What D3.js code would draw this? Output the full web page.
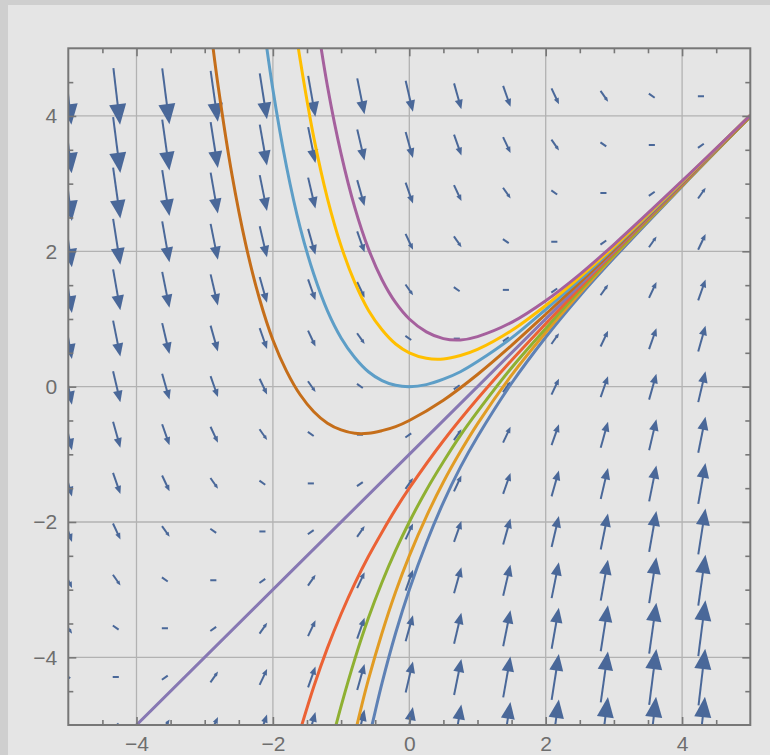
<!DOCTYPE html>
<html>
<head>
<meta charset="utf-8">
<script src="https://cdn.jsdelivr.net/npm/d3@7"></script>
<style>
html, body { margin: 0; padding: 0; overflow: hidden; background: #cfcfcf; }
</style>
</head>
<body>
<div id="chart"></div>
<script>
// sample points of the direction field
var gridX = [-5, -4.29, -3.57, -2.86, -2.14, -1.43, -0.71, 0, 0.71, 1.43, 2.14, 2.86, 3.57, 4.29];
var gridY = [-5, -4.29, -3.57, -2.86, -2.14, -1.43, -0.71, 0, 0.71, 1.43, 2.14, 2.86, 3.57, 4.29];

// slope dy/dx at each grid point, one row per gridY value (bottom to top)
var slopeRows = [
    [0, 0.71, 1.43, 2.14, 2.86, 3.57, 4.29, 5, 5.71, 6.43, 7.14, 7.86, 8.57, 9.29],
    [-0.71, 0, 0.71, 1.43, 2.14, 2.86, 3.57, 4.29, 5, 5.71, 6.43, 7.14, 7.86, 8.57],
    [-1.43, -0.71, 0, 0.71, 1.43, 2.14, 2.86, 3.57, 4.29, 5, 5.71, 6.43, 7.14, 7.86],
    [-2.14, -1.43, -0.71, 0, 0.71, 1.43, 2.14, 2.86, 3.57, 4.29, 5, 5.71, 6.43, 7.14],
    [-2.86, -2.14, -1.43, -0.71, 0, 0.71, 1.43, 2.14, 2.86, 3.57, 4.29, 5, 5.71, 6.43],
    [-3.57, -2.86, -2.14, -1.43, -0.71, 0, 0.71, 1.43, 2.14, 2.86, 3.57, 4.29, 5, 5.71],
    [-4.29, -3.57, -2.86, -2.14, -1.43, -0.71, 0, 0.71, 1.43, 2.14, 2.86, 3.57, 4.29, 5],
    [-5, -4.29, -3.57, -2.86, -2.14, -1.43, -0.71, 0, 0.71, 1.43, 2.14, 2.86, 3.57, 4.29],
    [-5.71, -5, -4.29, -3.57, -2.86, -2.14, -1.43, -0.71, 0, 0.71, 1.43, 2.14, 2.86, 3.57],
    [-6.43, -5.71, -5, -4.29, -3.57, -2.86, -2.14, -1.43, -0.71, 0, 0.71, 1.43, 2.14, 2.86],
    [-7.14, -6.43, -5.71, -5, -4.29, -3.57, -2.86, -2.14, -1.43, -0.71, 0, 0.71, 1.43, 2.14],
    [-7.86, -7.14, -6.43, -5.71, -5, -4.29, -3.57, -2.86, -2.14, -1.43, -0.71, 0, 0.71, 1.43],
    [-8.57, -7.86, -7.14, -6.43, -5.71, -5, -4.29, -3.57, -2.86, -2.14, -1.43, -0.71, 0, 0.71],
    [-9.29, -8.57, -7.86, -7.14, -6.43, -5.71, -5, -4.29, -3.57, -2.86, -2.14, -1.43, -0.71, 0]
];

// solution curves ([x, y] points)
var solBlue = [[-0.6, -5.24], [-0.5, -4.8], [-0.4, -4.38], [-0.2, -3.64], [0, -3], [0.25, -2.31], [0.5, -1.71], [0.75, -1.19], [1, -0.74], [1.5, 0.05], [2, 0.73], [2.5, 1.34], [3, 1.9], [4, 2.96], [5, 3.99]];
var solOrange = [[-0.8, -5.14], [-0.7, -4.72], [-0.6, -4.33], [-0.4, -3.64], [-0.2, -3.03], [0, -2.5], [0.25, -1.92], [0.5, -1.41], [0.75, -0.96], [1, -0.55], [1.5, 0.17], [2, 0.8], [2.5, 1.38], [3, 1.93], [4, 2.97], [5, 3.99]];
var solGreen = [[-1.1, -5.1], [-1, -4.72], [-0.8, -4.03], [-0.6, -3.42], [-0.4, -2.89], [-0.2, -2.42], [0, -2], [0.25, -1.53], [0.5, -1.11], [0.75, -0.72], [1, -0.37], [1.5, 0.28], [2, 0.86], [2.5, 1.42], [3, 1.95], [4, 2.98], [5, 3.99]];
var solRed = [[-1.6, -5.08], [-1.4, -4.43], [-1.2, -3.86], [-1, -3.36], [-0.8, -2.91], [-0.6, -2.51], [-0.4, -2.15], [-0.2, -1.81], [0, -1.5], [0.5, -0.8], [1, -0.18], [1.5, 0.39], [2, 0.93], [2.5, 1.46], [3, 1.98], [4, 2.99], [5, 4]];
var solLine = [[-4.5, -5.5], [0, -1], [5, 4]];
var solBrown = [[-2.9, 5.19], [-2.8, 4.42], [-2.6, 3.13], [-2.4, 2.11], [-2.2, 1.31], [-2, 0.69], [-1.8, 0.23], [-1.6, -0.12], [-1.4, -0.37], [-1.2, -0.54], [-1, -0.64], [-0.8, -0.69], [-0.6, -0.69], [-0.4, -0.65], [-0.2, -0.59], [0, -0.5], [0.5, -0.2], [1, 0.18], [1.5, 0.61], [2, 1.07], [2.5, 1.54], [3, 2.02], [4, 3.01], [5, 4]];
var solSky = [[-2.2, 5.83], [-2, 4.39], [-1.8, 3.25], [-1.6, 2.35], [-1.4, 1.66], [-1.2, 1.12], [-1, 0.72], [-0.8, 0.43], [-0.6, 0.22], [-0.4, 0.09], [-0.2, 0.02], [0, 0], [0.25, 0.03], [0.5, 0.11], [0.75, 0.22], [1, 0.37], [1.5, 0.72], [2, 1.14], [2.5, 1.58], [3, 2.05], [4, 3.02], [5, 4.01]];
var solYellow = [[-1.7, 5.51], [-1.6, 4.83], [-1.4, 3.68], [-1.2, 2.78], [-1, 2.08], [-0.8, 1.54], [-0.6, 1.13], [-0.4, 0.84], [-0.2, 0.63], [0, 0.5], [0.25, 0.42], [0.5, 0.41], [0.75, 0.46], [1, 0.55], [1.5, 0.83], [2, 1.2], [2.5, 1.62], [3, 2.07], [4, 3.03], [5, 4.01]];
var solMagenta = [[-1.4, 5.71], [-1.2, 4.44], [-1, 3.44], [-0.8, 2.65], [-0.6, 2.04], [-0.4, 1.58], [-0.2, 1.24], [0, 1], [0.25, 0.81], [0.5, 0.71], [0.75, 0.69], [1, 0.74], [1.5, 0.95], [2, 1.27], [2.5, 1.66], [3, 2.1], [4, 3.04], [5, 4.01]];

var solutions = [solBlue, solOrange, solGreen, solRed, solLine, solBrown, solSky, solYellow, solMagenta];
var solColors = ["#5e81b5", "#e19c24", "#8fb032", "#eb6235", "#8778b3", "#c56e1a", "#5d9ec7", "#ffbf00", "#a5609d"];

var majorTicks = [-4, -2, 0, 2, 4];
var minorTicks = [-4.5, -3.5, -3, -2.5, -1.5, -1, -0.5, 0.5, 1, 1.5, 2.5, 3, 3.5, 4.5];

function draw() {
    var w = 770, h = 755;
    var svg = d3.select("#chart").append("svg")
	.attr("width", w)
	.attr("height", h)
	.style("display", "block");

    svg.append("rect").attr("width", w).attr("height", h).attr("fill", "#cfcfcf");
    svg.append("rect").attr("x", 8).attr("y", 5)
	.attr("width", w - 8).attr("height", h - 5)
	.attr("fill", "#e5e5e5");

    var x = d3.scaleLinear().domain([-5, 5]).range([68.3, 750.3]);
    var y = d3.scaleLinear().domain([-5, 5]).range([725, 48.3]);
    var len = d3.scaleLinear().domain([1, 8]).range([8, 57]).clamp(true);

    svg.append("clipPath").attr("id", "plotclip")
	.append("rect")
	.attr("x", x(-5)).attr("y", y(5))
	.attr("width", x(5) - x(-5)).attr("height", y(-5) - y(5));

    // grid lines
    var grid = svg.append("g");
    grid.selectAll(".gx").data(majorTicks).enter().append("line")
	.attr("x1", function(d) { return x(d); })
	.attr("x2", function(d) { return x(d); })
	.attr("y1", y(5)).attr("y2", y(-5))
	.attr("stroke", "#b2b2b2").attr("stroke-width", 1.3);
    grid.selectAll(".gy").data(majorTicks).enter().append("line")
	.attr("y1", function(d) { return y(d); })
	.attr("y2", function(d) { return y(d); })
	.attr("x1", x(-5)).attr("x2", x(5))
	.attr("stroke", "#b2b2b2").attr("stroke-width", 1.3);

    // direction field
    var field = svg.append("g").attr("clip-path", "url(#plotclip)");
    var pxX = x(1) - x(0), pxY = y(0) - y(1);
    for (var j = 0; j < gridY.length; j++) {
	for (var i = 0; i < gridX.length; i++) {
	    var s = slopeRows[j][i];
	    var vx = pxX, vy = -s * pxY;
	    var n = Math.sqrt(vx * vx + vy * vy);
	    var ux = vx / n, uy = vy / n;
	    var L = len(Math.sqrt(1 + s * s));
	    var cx = x(gridX[i]), cy = y(gridY[j]);
	    var tx = cx - ux * L / 2, ty = cy - uy * L / 2;
	    var hx = cx + ux * L / 2, hy = cy + uy * L / 2;
	    var hl = 0.36 * L, hw = 0.15 * L;
	    var bx = hx - ux * hl, by = hy - uy * hl;
	    field.append("line")
		.attr("x1", tx).attr("y1", ty)
		.attr("x2", bx + ux * 1).attr("y2", by + uy * 1)
		.attr("stroke", "#4a6899")
		.attr("stroke-width", 2);
	    if (L > 10) {
		field.append("path")
		    .attr("d", "M" + hx + "," + hy +
			  "L" + (bx - uy * hw) + "," + (by + ux * hw) +
			  "L" + (bx + uy * hw) + "," + (by - ux * hw) + "Z")
		    .attr("fill", "#4a6899");
	    }
	}
    }

    // solution curves
    var line = d3.line()
	.x(function(d) { return x(d[0]); })
	.y(function(d) { return y(d[1]); })
	.curve(d3.curveCatmullRom.alpha(0.5));
    var curves = svg.append("g").attr("clip-path", "url(#plotclip)");
    curves.selectAll("path").data(solutions).enter().append("path")
	.attr("d", line)
	.attr("fill", "none")
	.attr("stroke", function(d, k) { return solColors[k]; })
	.attr("stroke-width", 3);

    // frame and ticks
    var fmt = function(d) { return d < 0 ? "\u2212" + Math.abs(d) : "" + d; };
    var axes = [
	{ axis: d3.axisBottom(x), tr: "translate(0," + y(-5) + ")", lab: true },
	{ axis: d3.axisLeft(y), tr: "translate(" + x(-5) + ",0)", lab: true },
	{ axis: d3.axisTop(x), tr: "translate(0," + y(5) + ")", lab: false },
	{ axis: d3.axisRight(y), tr: "translate(" + x(5) + ",0)", lab: false }
    ];
    axes.forEach(function(a) {
	var gMinor = svg.append("g").attr("transform", a.tr)
	    .call(a.axis.tickValues(minorTicks).tickSize(-5).tickFormat(""));
	gMinor.select(".domain").remove();
	var gMajor = svg.append("g").attr("transform", a.tr)
	    .call(a.axis.tickValues(majorTicks).tickSize(-8).tickPadding(11)
		  .tickFormat(a.lab ? fmt : ""));
	gMajor.select(".domain").remove();
	[gMinor, gMajor].forEach(function(g) {
	    g.selectAll("line").attr("stroke", "#777").attr("stroke-width", 1.6);
	    g.selectAll("text")
		.attr("fill", "#6e6e6e")
		.style("font-family", "'Liberation Sans', Arial, sans-serif")
		.style("font-size", "21px");
	});
    });

    svg.append("rect")
	.attr("x", x(-5)).attr("y", y(5))
	.attr("width", x(5) - x(-5)).attr("height", y(-5) - y(5))
	.attr("fill", "none")
	.attr("stroke", "#777")
	.attr("stroke-width", 2);
}

draw();
</script>
</body>
</html>
